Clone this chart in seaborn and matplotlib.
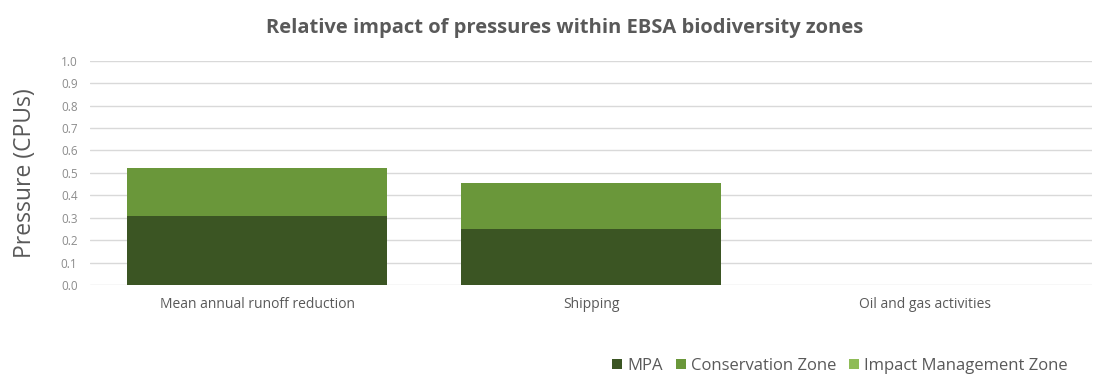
import matplotlib
matplotlib.use("Agg")
import matplotlib.pyplot as plt
import seaborn as sns
import pandas as pd
import numpy as np
from matplotlib.patches import Patch

categories = ["Mean annual runoff reduction", "Shipping", "Oil and gas activities"]
mpa = [0.308, 0.248, 0.0]
conservation = [0.212, 0.209, 0.0]
impact_mgmt = [0.0, 0.0, 0.0]
series_names = ["MPA", "Conservation Zone", "Impact Management Zone"]
colors = ["#3b5523", "#6a973a", "#8fbc57"]
yticks = [round(0.1 * i, 1) for i in range(11)]

sns.set_theme(style="white")
plt.rcParams['font.family'] = ['Open Sans', 'DejaVu Sans']
txt = "#595959"

fig = plt.figure(figsize=(10.94, 3.8), dpi=100)
ax = fig.add_axes([0.0823, 0.25, 0.916, 0.59])

cum1 = np.array(mpa)
cum2 = cum1 + np.array(conservation)
cum3 = cum2 + np.array(impact_mgmt)
for vals, c in zip([cum3, cum2, cum1], colors[::-1]):
    df = pd.DataFrame({"cat": categories, "val": vals})
    sns.barplot(data=df, x="cat", y="val", color=c, width=0.78, ax=ax,
                saturation=1, errorbar=None, zorder=3, linewidth=0, edgecolor="none")

ax.set_ylim(0, 1.0)
ax.set_yticks(yticks)
ax.set_yticklabels([f"{v:.1f}" for v in yticks], fontsize=8.5, color="#8c8c8c")
ax.tick_params(axis="x", labelsize=10, labelcolor=txt, length=0, pad=9)
ax.tick_params(axis="y", length=0, pad=9)
ax.grid(axis="y", color="#d9d9d9", linewidth=1, zorder=0)
ax.set_axisbelow(True)
for s in ax.spines.values():
    s.set_visible(False)
ax.set_xlabel("")
ax.set_ylabel("")
fig.text(0.023, 0.545, "Pressure (CPUs)", rotation=90, ha="center", va="center",
         fontsize=16.5, color=txt)

fig.text(0.516, 0.925, "Relative impact of pressures within EBSA biodiversity zones",
         ha="center", va="center", fontsize=14.5, fontweight="bold", color=txt)

handles = [Patch(facecolor=c, edgecolor="none", label=n) for c, n in zip(colors, series_names)]
fig.legend(handles=handles, loc="center right", bbox_to_anchor=(0.99, 0.037), ncol=3,
           frameon=False, fontsize=12, labelcolor=txt, handlelength=0.6, handleheight=0.6,
           handletextpad=0.3, columnspacing=0.8)

fig.savefig("out.png", dpi=100)
